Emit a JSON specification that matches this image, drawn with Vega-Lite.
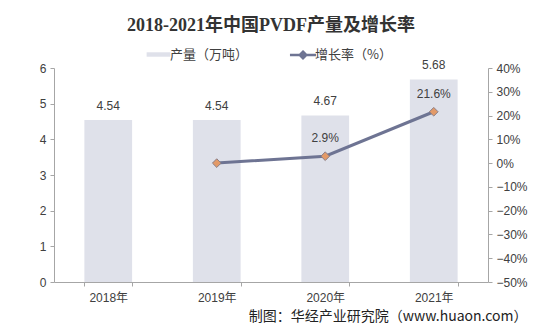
{
  "$schema": "https://vega.github.io/schema/vega-lite/v6.json",
  "autosize": "none",
  "width": 434,
  "height": 214,
  "padding": {"left": 54, "top": 68, "right": 45, "bottom": 52},
  "background": "white",
  "title": {
    "text": "2018-2021年中国PVDF产量及增长率",
    "font": "Liberation Serif, Noto Sans CJK SC",
    "fontSize": 18,
    "fontWeight": "bold",
    "color": "#333333",
    "anchor": "middle",
    "offset": 12
  },
  "config": {
    "view": {"stroke": null},
    "font": "Liberation Sans, Noto Sans CJK SC",
    "axis": {
      "labelFont": "Liberation Sans, Noto Sans CJK SC",
      "labelFontSize": 12,
      "labelColor": "#404040",
      "domainColor": "#a6a6a6",
      "tickColor": "#a6a6a6",
      "grid": false,
      "tickSize": 4,
      "labelOverlap": false
    },
    "legend": {
      "labelFont": "Noto Sans CJK SC",
      "labelFontSize": 13,
      "labelColor": "#404040",
      "layout": {"top": {"anchor": "middle", "margin": 46}}
    }
  },
  "data": {
    "values": [
      {"year": "2018年", "output": 4.54, "growth": null, "glabel": ""},
      {"year": "2019年", "output": 4.54, "growth": 0.0, "glabel": ""},
      {"year": "2020年", "output": 4.67, "growth": 0.029, "glabel": "2.9%"},
      {"year": "2021年", "output": 5.68, "growth": 0.216, "glabel": "21.6%"}
    ]
  },
  "encoding": {
    "x": {
      "field": "year",
      "type": "nominal",
      "sort": null,
      "scale": {"paddingInner": 0.56, "paddingOuter": 0.28},
      "axis": {
        "labelAngle": 0,
        "tickBand": "extent",
        "labelPadding": 6,
        "title": "制图：华经产业研究院（www.huaon.com）",
        "titleFont": "Noto Sans CJK SC",
        "titleFontSize": 14,
        "titleFontWeight": "normal",
        "titleColor": "#222222",
        "titleAnchor": "end",
        "titleAlign": "right",
        "titleX": 473,
        "titlePadding": 6
      }
    }
  },
  "layer": [
    {
      "encoding": {
        "y": {
          "field": "output",
          "type": "quantitative",
          "scale": {"domain": [0, 6]},
          "axis": {"values": [0, 1, 2, 3, 4, 5, 6], "title": null, "labelPadding": 4, "labelOverlap": false}
        }
      },
      "layer": [
        {
          "mark": {"type": "bar"},
          "encoding": {
            "fill": {
              "datum": "产量（万吨）",
              "type": "nominal",
              "scale": {"range": ["#dfe1ea"]},
              "legend": {
                "orient": "top",
                "title": null,
                "symbolType": "M-1.6,-0.3H1.6V0.3H-1.6Z",
                "symbolSize": 220,
                "symbolStrokeWidth": 0,
                "offset": 4
              }
            }
          }
        },
        {
          "mark": {"type": "text", "dy": -14, "fontSize": 12, "color": "#404040", "font": "Liberation Sans"},
          "encoding": {
            "text": {"field": "output", "type": "quantitative", "format": ".2f"}
          }
        }
      ]
    },
    {
      "encoding": {
        "y": {
          "field": "growth",
          "type": "quantitative",
          "scale": {"domain": [-0.5, 0.4]},
          "axis": {
            "orient": "right",
            "format": ".0%",
            "values": [-0.5, -0.4, -0.3, -0.2, -0.1, 0, 0.1, 0.2, 0.3, 0.4],
            "title": null,
            "labelPadding": 4,
            "labelOverlap": false
          }
        }
      },
      "layer": [
        {
          "mark": {"type": "line", "strokeWidth": 3},
          "encoding": {
            "stroke": {
              "datum": "增长率（%）",
              "type": "nominal",
              "scale": {"range": ["#6e7493"]},
              "legend": {
                "orient": "top",
                "title": null,
                "symbolType": "M-2,0H2M0,-0.5L0.5,0L0,0.5L-0.5,0Z",
                "symbolSize": 170,
                "symbolStrokeWidth": 2.5,
                "symbolFillColor": "#e39a68",
                "offset": 4
              }
            }
          }
        },
        {
          "mark": {"type": "point", "shape": "diamond", "size": 75, "filled": true, "fill": "#e39a68", "stroke": "#8a7e86", "strokeWidth": 1, "opacity": 1}
        },
        {
          "mark": {"type": "text", "dy": -18, "fontSize": 12, "color": "#404040", "font": "Liberation Sans"},
          "encoding": {
            "text": {"field": "glabel", "type": "nominal"}
          }
        }
      ]
    }
  ],
  "resolve": {"scale": {"y": "independent"}}
}
